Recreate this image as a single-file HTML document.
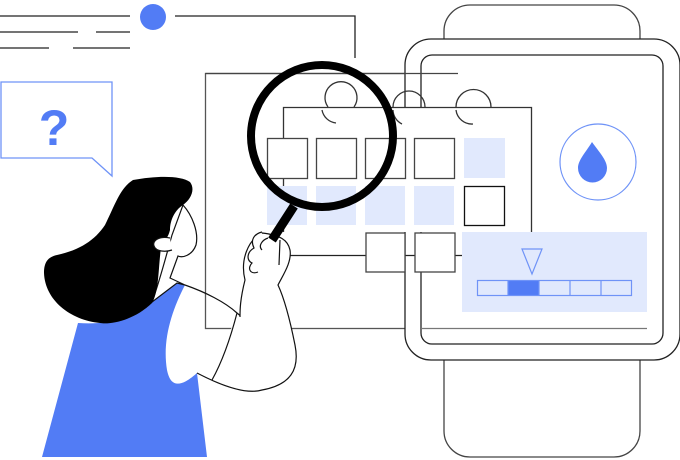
<!DOCTYPE html>
<html><head><style>html,body{margin:0;padding:0;background:#fff}svg{display:block}</style></head>
<body>
<svg width="680" height="460" viewBox="0 0 680 460" xmlns="http://www.w3.org/2000/svg">
<g stroke="#222" stroke-width="1.3" fill="none">
<line x1="0" y1="16" x2="130" y2="16"/>
<polyline points="175,16 355,16 355,58"/>
<line x1="0" y1="32" x2="78" y2="32"/><line x1="96" y1="32" x2="130" y2="32"/>
<line x1="0" y1="48" x2="49" y2="48"/><line x1="73" y1="48" x2="130" y2="48"/>
</g>
<circle cx="153" cy="17" r="13" fill="#527cf5"/>
<path d="M1 82 H112 V176 L92 158 H1 Z" fill="#fff" stroke="#6f93f7" stroke-width="1.3"/>
<text x="54" y="145" font-family="Liberation Sans, sans-serif" font-size="50" font-weight="bold" fill="#527cf5" text-anchor="middle">?</text>
<rect x="205.5" y="73.5" width="450" height="255" fill="#fff" stroke="#555" stroke-width="1.3"/>
<rect x="444" y="5" width="196" height="90" rx="26" fill="#fff" stroke="#444" stroke-width="1.3"/>
<rect x="444" y="330" width="196" height="127" rx="26" fill="#fff" stroke="#444" stroke-width="1.3"/>
<rect x="405" y="39" width="275" height="321" rx="26" fill="#fff" stroke="#222" stroke-width="1.3"/>
<rect x="421" y="55" width="242" height="289" rx="11" fill="#fff" stroke="#222" stroke-width="1.3"/>
<path d="M205.5 73.5 H458" stroke="#444" stroke-width="1.3"/>
<path d="M421 328.5 H647" stroke="#777" stroke-width="1.3"/>
<circle cx="598" cy="162" r="38" fill="none" stroke="#6f93f7" stroke-width="1.2"/>
<path d="M592 142 C586 152 578 160 578 168 A14 14 0 0 0 607 168 C607 160 599 152 592 142 Z" fill="#527cf5"/>
<path d="M283.5 232 V107.5 H531.5 V232" fill="#fff" stroke="#333" stroke-width="1.3"/>
<g fill="none" stroke="#333" stroke-width="1.3">
<path d="M328 107 A16 16 0 1 1 354 107"/><path d="M336 123 A16 16 0 0 1 322 110"/>
<path d="M393 107 A16 16 0 1 1 425 107"/><path d="M402 124 A16 16 0 0 1 393 110"/>
<path d="M456 107 A16 16 0 1 1 491 107"/><path d="M473 124 A16 16 0 0 1 456 110"/>
</g>
<g stroke="#444" stroke-width="1.3" fill="#fff">
<rect x="267.5" y="138.5" width="40" height="40"/><rect x="316.5" y="138.5" width="40" height="40"/>
<rect x="365.5" y="138.5" width="40" height="40"/><rect x="414.5" y="138.5" width="40" height="40"/>
<rect x="464.5" y="186.5" width="40" height="39" stroke="#111"/>
</g>
<g fill="#e1e9fd">
<rect x="464" y="138" width="41" height="40"/>
<rect x="267" y="186" width="40" height="39"/><rect x="316" y="186" width="40" height="39"/>
<rect x="365" y="186" width="40" height="39"/><rect x="414" y="186" width="40" height="39"/>
</g>
<line x1="283" y1="255.5" x2="462" y2="255.5" stroke="#222" stroke-width="1.3"/>
<rect x="366" y="233" width="39" height="39" fill="#fff" stroke="#444" stroke-width="1.3"/>
<rect x="415" y="233" width="40" height="39" fill="#fff" stroke="#444" stroke-width="1.3"/>
<rect x="462" y="232" width="185" height="80" fill="#e1e9fd"/>
<path d="M522 249 H542 L532 274 Z" fill="none" stroke="#6f93f7" stroke-width="1.2"/>
<rect x="508" y="280" width="31" height="15" fill="#527cf5"/>
<g fill="none" stroke="#6f93f7" stroke-width="1.2">
<rect x="477.5" y="280.5" width="154" height="15"/>
<line x1="508" y1="280" x2="508" y2="296"/><line x1="539" y1="280" x2="539" y2="296"/>
<line x1="570" y1="280" x2="570" y2="296"/><line x1="601" y1="280" x2="601" y2="296"/>
</g>
<circle cx="322" cy="136" r="71" fill="none" stroke="#000" stroke-width="8"/>
<path d="M152 302 L177 283 L185 285 C172 310 162 340 167 370 C170 385 178 390 197 373 L207 457 H42 L78 323 C110 325 140 318 152 302 Z" fill="#527cf5"/>
<path d="M185 285 C205 292 225 302 237 313 C248 322 256 330 262 335" fill="none" stroke="#111" stroke-width="1.2"/>
<path d="M197 373 C220 385 245 395 262 390 C290 385 300 370 295 345 C290 320 285 300 278 285 C283 275 292 262 290 250 C288 240 280 235 262 233 C248 240 240 260 245 280 C240 300 240 310 240 317" fill="#fff" stroke="#111" stroke-width="1.2"/>
<path d="M237 313 C230 340 222 362 212 380" fill="none" stroke="#111" stroke-width="1.2"/>
<line x1="294" y1="206" x2="272" y2="240" stroke="#000" stroke-width="9"/>
<path d="M262 232 C254 234 250 240 254 248 C247 252 246 260 252 263 C247 268 250 275 258 272 M268 238 C262 240 258 246 262 250" fill="#fff" stroke="#111" stroke-width="1.2"/>
<path d="M280 240 L279 265" stroke="#111" stroke-width="1.2"/>
<path d="M183 205 C192 215 199 232 196 245 C192 256 182 258 178 256 L170 278 L185 285 L177 283 L152 302 C160 280 165 260 172 235 Z" fill="#fff" stroke="#111" stroke-width="1.2"/>
<path d="M133 180 C155 176 180 175 190 182 C196 190 190 200 183 205 C175 210 170 220 170 230 C168 238 165 240 162 243 C158 260 160 290 152 303 C135 320 110 325 100 323 C70 320 45 300 44 273 C44 262 48 257 57 255 C80 250 95 240 105 225 C115 205 120 188 133 180 Z" fill="#000"/>
<path d="M170 238 C160 236 152 240 154 246 C156 252 166 252 172 250" fill="#fff" stroke="#111" stroke-width="1.2"/>
</svg>
</body></html>
